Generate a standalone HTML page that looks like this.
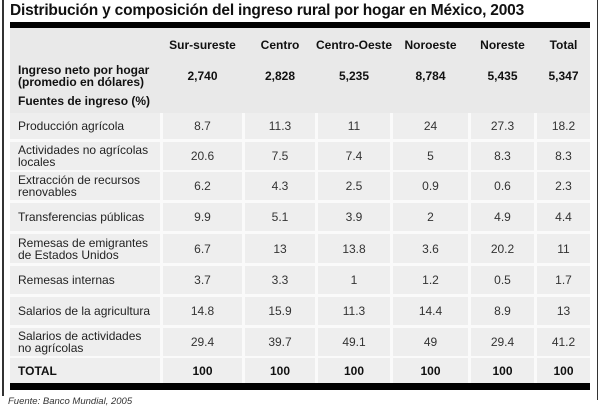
<!DOCTYPE html>
<html><head><meta charset="utf-8"><style>
body{margin:0;width:600px;height:408px;background:#fff;position:relative;font-family:"Liberation Sans",Arial,sans-serif;overflow:hidden}
.a{position:absolute}
.t{left:10px;top:2px;font-size:15.5px;font-weight:bold;color:#111;letter-spacing:-0.2px}
.bar{left:10px;width:580px;background:#000}
.bg{left:10px;top:27px;width:580px;height:356px;background:#fafafa}
.hd{left:10px;width:580px;background:#e9e9e9}
.c{background:#eeeeee;display:flex;align-items:center;justify-content:center;font-size:12px;color:#333;line-height:12px;white-space:nowrap}
.l{justify-content:flex-start;padding-left:8px;box-sizing:border-box;color:#222}
.b{font-weight:bold;color:#111}
</style></head><body>
<div class="a" style="left:2px;top:0;width:2px;height:396px;background:#333"></div>
<div class="a" style="left:597px;top:0;width:1px;height:400px;background:#333"></div>
<div class="a t">Distribución y composición del ingreso rural por hogar en México, 2003</div>
<div class="a bg"></div>
<div class="a hd" style="top:27px;height:86px"></div>
<div class="a bar" style="top:22px;height:6px"></div>
<div class="a bar" style="top:383px;height:7px"></div>
<div class="a" style="left:0;top:396px;font-size:9.5px;font-style:italic;color:#333;padding-left:8px">Fuente: Banco Mundial, 2005</div>
<div id="g"></div>
<script>
var X=[[10,150],[163,79],[245,70],[318,72],[393,75],[471,63],[537,53]];
var g=document.getElementById('g');
function cell(x,w,y,h,txt,cls,bg){var d=document.createElement('div');d.className='a c '+(cls||'');d.style.cssText='left:'+x+'px;width:'+w+'px;top:'+y+'px;height:'+h+'px;'+(bg?'background:transparent;':'');d.innerHTML=txt;g.appendChild(d);}
var hdr=['','Sur-sureste','Centro','Centro-Oeste','Noroeste','Noreste','Total'];
hdr.forEach(function(t,i){cell(X[i][0],X[i][1],32,26,t,'b'+(i==0?' l':''),1);});
var ing=['Ingreso neto por hogar<br>(promedio en dólares)','2,740','2,828','5,235','8,784','5,435','5,347'];
ing.forEach(function(t,i){cell(X[i][0],X[i][1],62,28,t,'b'+(i==0?' l':''),1);});
cell(10,200,91,20,'Fuentes de ingreso (%)','b l',1);
var rows=[
[113,26,'Producción agrícola',['8.7','11.3','11','24','27.3','18.2']],
[142,28,'Actividades no agrícolas<br>locales',['20.6','7.5','7.4','5','8.3','8.3']],
[172,28,'Extracción de recursos<br>renovables',['6.2','4.3','2.5','0.9','0.6','2.3']],
[203,28,'Transferencias públicas',['9.9','5.1','3.9','2','4.9','4.4']],
[234,29,'Remesas de emigrantes<br>de Estados Unidos',['6.7','13','13.8','3.6','20.2','11']],
[266,28,'Remesas internas',['3.7','3.3','1','1.2','0.5','1.7']],
[297,28,'Salarios de la agricultura',['14.8','15.9','11.3','14.4','8.9','13']],
[328,28,'Salarios de actividades<br>no agrícolas',['29.4','39.7','49.1','49','29.4','41.2']],
[358,25,'TOTAL',['100','100','100','100','100','100']]];
rows.forEach(function(r,k){var b=k==8?'b':'';cell(X[0][0],X[0][1],r[0],r[1],r[2],'l '+b);r[3].forEach(function(v,i){cell(X[i+1][0],X[i+1][1],r[0],r[1],v,b);});});
</script>
</body></html>
